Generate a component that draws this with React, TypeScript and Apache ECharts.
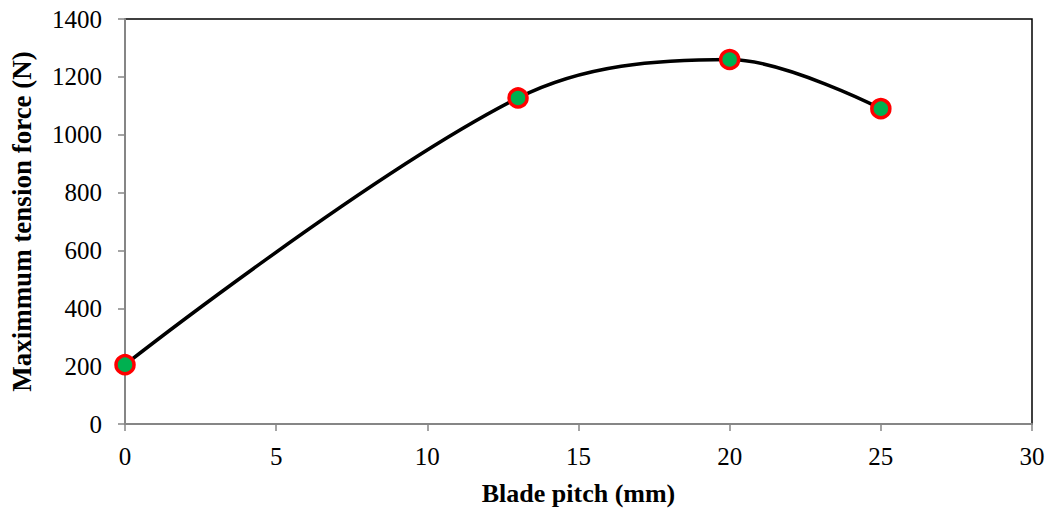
import React, { useEffect, useRef } from "react";
import * as echarts from "echarts";

const xValues = [0, 13, 20, 25];
const yValues = [205, 1127, 1260, 1090];
const xTitle = "Blade pitch (mm)";
const yTitle = "Maximmum tension force (N)";

export default function App() {
  const ref = useRef<HTMLDivElement>(null);
  useEffect(() => {
    const chart = echarts.init(ref.current!, null, { renderer: "svg" });
    const font = "'Liberation Serif', 'Times New Roman', serif";
    chart.setOption({
      animation: false,
      backgroundColor: "#ffffff",
      textStyle: { fontFamily: font },
      grid: {
        left: 122,
        right: 16,
        top: 19,
        bottom: 85,
        show: true,
        borderColor: "#000000",
        borderWidth: 1.5,
        backgroundColor: "transparent",
      },
      xAxis: {
        type: "value",
        min: 0,
        max: 30,
        interval: 5,
        name: xTitle,
        nameLocation: "middle",
        nameGap: 56,
        nameTextStyle: { fontFamily: font, fontSize: 26, fontWeight: "bold", color: "#000" },
        axisLine: { show: true, lineStyle: { color: "#868686", width: 2 } },
        axisTick: { show: true, inside: false, length: 7, lineStyle: { color: "#868686", width: 1.5 } },
        axisLabel: { fontFamily: font, fontSize: 25, color: "#000", margin: 20, formatter: (v: number) => String(v) },
        splitLine: { show: false },
      },
      yAxis: {
        type: "value",
        min: 0,
        max: 1400,
        interval: 200,
        name: yTitle,
        nameLocation: "middle",
        nameGap: 90,
        nameTextStyle: { fontFamily: font, fontSize: 27, fontWeight: "bold", color: "#000" },
        axisLine: { show: true, lineStyle: { color: "#868686", width: 2 } },
        axisTick: { show: true, inside: false, length: 7, lineStyle: { color: "#868686", width: 1.5 } },
        axisLabel: { fontFamily: font, fontSize: 25, color: "#000", margin: 23, formatter: (v: number) => String(v) },
        splitLine: { show: false },
      },
      series: [
        {
          type: "line",
          data: xValues.map((x, i) => [x, yValues[i]]),
          smooth: 0.35,
          lineStyle: { color: "#000000", width: 3.5 },
          symbol: "circle",
          symbolSize: 18,
          itemStyle: { color: "#00B050", borderColor: "#FF0000", borderWidth: 3.5 },
          z: 5,
        },
      ],
    });
    return () => chart.dispose();
  }, []);
  return (
    <div
      ref={ref}
      style={{ position: "fixed", left: 0, top: 0, width: 1048, height: 511 }}
    />
  );
}
